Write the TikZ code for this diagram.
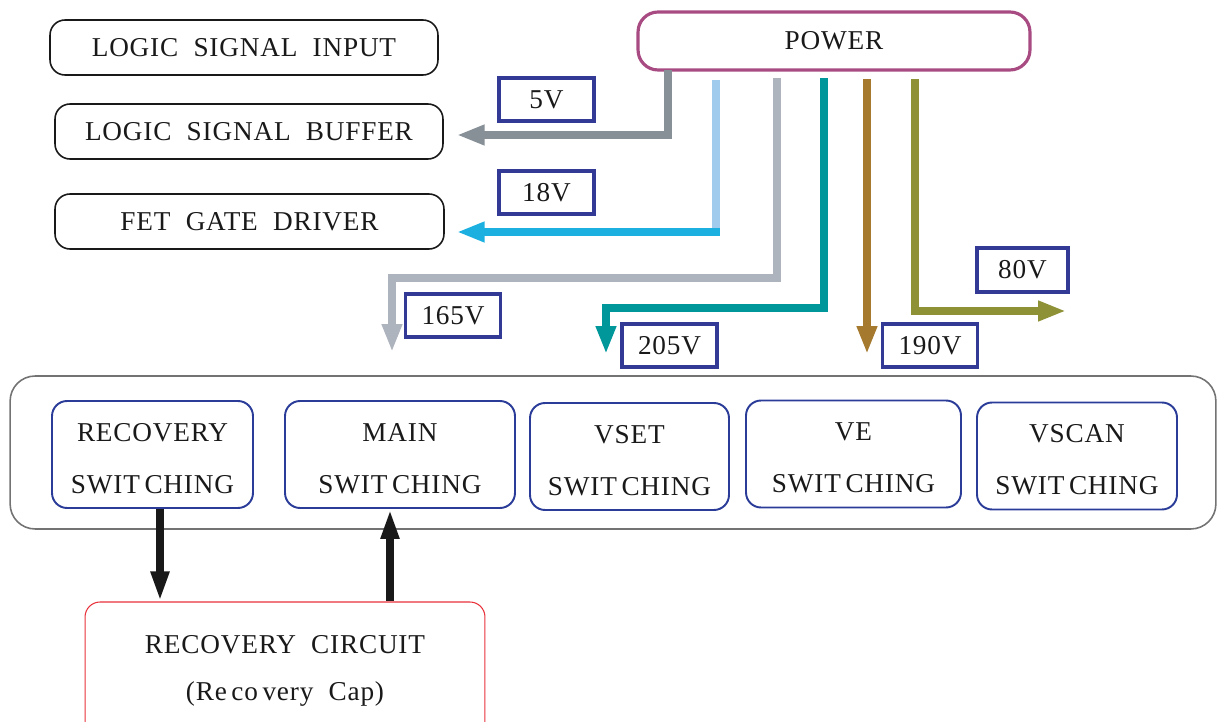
\documentclass[tikz,border=0pt]{standalone}
\usepackage{fontspec}
\setmainfont{Liberation Serif}[LetterSpace=3]
\usetikzlibrary{arrows.meta}
\definecolor{pwrpink}{HTML}{A84B82}
\definecolor{lblblue}{HTML}{333A96}
\definecolor{swblue}{HTML}{2A3C98}
\definecolor{recred}{HTML}{E8313A}
\definecolor{railgray}{HTML}{878F97}
\definecolor{railpale}{HTML}{A0CBEC}
\definecolor{railcyan}{HTML}{1CB0E0}
\definecolor{railsilver}{HTML}{AEB4BD}
\definecolor{railteal}{HTML}{00979B}
\definecolor{railbrown}{HTML}{A57A2E}
\definecolor{railolive}{HTML}{8F9137}

\begin{document}
\begin{tikzpicture}[
  x=0.02cm, y=-0.02cm,
  every node/.style={font=\fontsize{15.5}{29.5}\selectfont, text=black!90},
  logicbox/.style={rectangle, draw=black!90, line width=0.9pt, rounded corners=0.3cm, minimum width=7.76cm, minimum height=1.1cm},
  powerbox/.style={rectangle, draw=pwrpink, line width=1.8pt, rounded corners=0.4cm, minimum width=7.84cm, minimum height=1.16cm},
  voltbox/.style={rectangle, draw=lblblue, line width=1.8pt, minimum width=1.9cm, minimum height=0.86cm},
  swbox/.style={rectangle, draw=swblue, line width=1.1pt, rounded corners=0.3cm, minimum height=2.14cm},
  swtext/.style={align=center, yshift=-0.08cm},
  rail/.style={line width=4.5pt, -{Triangle[length=0.56cm, width=0.38cm]}},
  flow/.style={line width=4.5pt, black!90, -{Triangle[length=0.6cm, width=0.34cm]}},
]
\useasboundingbox (0,0) rectangle (1218,722);

% ---- left column ----
\node[logicbox] (input)  at (244, 47.5)  {LOGIC\ \ SIGNAL\ \ INPUT};
\node[logicbox] (buffer) at (249, 131.5) {LOGIC\ \ SIGNAL\ \ BUFFER};
\node[logicbox, minimum width=7.78cm] (driver) at (249.5, 221.5) {FET\ \ GATE\ \ DRIVER};

% ---- power supply ----
\node[powerbox] (power) at (834, 41) {POWER};

% ---- voltage labels ----
\node[voltbox] (v5)   at (546.5, 99.5)  {5V};
\node[voltbox] (v18)  at (546.5, 192.5) {18V};
\node[voltbox] (v165) at (453, 315.5)   {165V};
\node[voltbox] (v205) at (669.5, 345.5) {205V};
\node[voltbox] (v190) at (930, 345.5)   {190V};
\node[voltbox, minimum width=1.82cm, minimum height=0.88cm] (v80) at (1022.5, 270) {80V};

% ---- switching block ----
\node[rectangle, draw=black!55, line width=0.9pt, rounded corners=0.5cm, minimum width=24.12cm, minimum height=3.06cm] (panel) at (613, 452.5) {};
\node[swbox, minimum width=4.02cm, label={[swtext]center:RECOVERY\\SWIT\,CHING}] (recsw) at (152.5, 454.5) {};
\node[swbox, minimum width=4.6cm,  label={[swtext]center:MAIN\\SWIT\,CHING}]     (mainsw)  at (400, 454.5)   {};
\node[swbox, minimum width=3.98cm, label={[swtext]center:VSET\\SWIT\,CHING}]     (vsetsw)  at (629.5, 456.5) {};
\node[swbox, minimum width=4.3cm,  label={[swtext]center:VE\\SWIT\,CHING}]       (vesw)    at (853.5, 454)   {};
\node[swbox, minimum width=4.0cm,  label={[swtext]center:VSCAN\\SWIT\,CHING}]    (vscansw) at (1077, 456)    {};

% ---- recovery circuit ----
\node[rectangle, draw=recred, line width=0.6pt, rounded corners=0.3cm, minimum width=8cm, minimum height=2.76cm, align=center, font=\fontsize{15.5}{27}\selectfont] (reccirc) at (285, 671)
  {RECOVERY\ \ CIRCUIT\\(Re\,co\,very\ \ Cap)};

% ---- rail end points ----
\coordinate (s5)   at (668, 70);
\coordinate (s18)  at (716, 80);
\coordinate (k18)  at (716, 232);
\coordinate (s165) at (777, 78);
\coordinate (e165) at (392, 352);
\coordinate (s205) at (824, 78);
\coordinate (e205) at (606, 354);
\coordinate (s190) at (867, 79);
\coordinate (e190) at (867, 354);
\coordinate (s80)  at (915, 79);
\coordinate (e80)  at (1066, 311);

% ---- supply rails ----
\draw[rail, railgray] (s5) |- ([xshift=0.26cm, yshift=-0.07cm]buffer.east);
\draw[line width=4.5pt, railpale] (s18) -- ([yshift=-0.08cm]k18);
\draw[rail, railcyan] ([xshift=2.2pt]k18) -- ([xshift=0.24cm, yshift=-0.21cm]driver.east);
\draw[rail, railsilver] (s165) -- ++(0,200) -| (e165);
\draw[rail, railteal] (s205) -- ++(0,230) -| (e205);
\draw[rail, railbrown] (s190) -- (e190);
\draw[rail, railolive] (s80) |- (e80);

% ---- recovery path ----
\draw[flow] (recsw.south -| 160,0) -- (reccirc.north -| 160,0);
\draw[flow] (reccirc.north -| 390,0) -- (mainsw.south -| 390,0);

\end{tikzpicture}
\end{document}
